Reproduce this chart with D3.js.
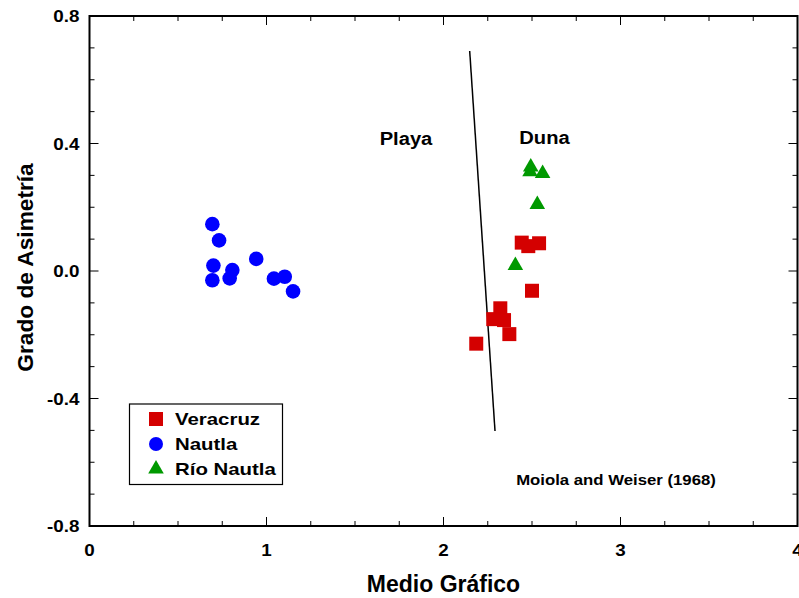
<!DOCTYPE html>
<html>
<head>
<meta charset="utf-8">
<script src="https://cdn.jsdelivr.net/npm/d3@7"></script>
<style>
  html, body { margin: 0; padding: 0; background: #fff; }
  text { font-family: "Liberation Sans", Arial, sans-serif; font-weight: bold; fill: #000; }
</style>
</head>
<body>
<svg id="chart" width="799" height="598"></svg>
<script>
// Sample groups: [Medio Gráfico, Grado de Asimetría]
const veracruz = [
  [2.442, 0.089], [2.479, 0.078], [2.540, 0.087], [2.500, -0.062],
  [2.321, -0.117], [2.281, -0.151], [2.342, -0.154], [2.372, -0.198],
  [2.185, -0.228]
];
const nautla = [
  [0.694, 0.147], [0.732, 0.096], [0.700, 0.017], [0.694, -0.029],
  [0.807, 0.003], [0.792, -0.023], [0.942, 0.038], [1.042, -0.024],
  [1.103, -0.018], [1.150, -0.064]
];
const rioNautla = [
  [2.493, 0.326], [2.489, 0.311], [2.560, 0.306], [2.530, 0.209],
  [2.406, 0.017]
];
// Beach / dune boundary line
const boundary = [[2.148, 0.69], [2.291, -0.502]];

const xTicks = [0, 1, 2, 3, 4];
const yTicks = [-0.8, -0.4, 0.0, 0.4, 0.8];

const svg = d3.select("#chart");
const pL = 89.5, pR = 797.5, pT = 16, pB = 526;

const x = d3.scaleLinear().domain([0, 4]).range([pL, pR]);
const y = d3.scaleLinear().domain([-0.8, 0.8]).range([pB, pT]);

// tick formats with a plain hyphen as the minus sign
const fmtY = d3.formatLocale({ decimal: ".", thousands: ",", grouping: [3], currency: ["", ""], minus: "-" }).format(".1f");
const fmtX = d3.format("d");

// widen glyphs horizontally by a factor, keeping the text as text
function widen(sel, factor) {
  sel.each(function () {
    const w = this.getComputedTextLength();
    d3.select(this).attr("textLength", w * factor).attr("lengthAdjust", "spacingAndGlyphs");
  });
  return sel;
}

// frame
svg.append("rect")
  .attr("x", pL).attr("y", pT)
  .attr("width", pR - pL).attr("height", pB - pT)
  .attr("fill", "none").attr("stroke", "#000").attr("stroke-width", 2);

// inward ticks on all four sides
const xMinor = d3.range(0, 4.001, 0.25);
const yMinor = d3.range(-0.8, 0.8001, 0.1);
const isMajorX = v => Math.abs(v - Math.round(v)) < 1e-6;
const isMajorY = v => yTicks.some(t => Math.abs(t - v) < 1e-6);
const tickG = svg.append("g").attr("stroke", "#000").attr("stroke-width", 1);
xMinor.forEach(v => {
  const len = isMajorX(v) ? 9 : 5;
  tickG.append("line").attr("x1", x(v)).attr("x2", x(v)).attr("y1", pB).attr("y2", pB - len);
  tickG.append("line").attr("x1", x(v)).attr("x2", x(v)).attr("y1", pT).attr("y2", pT + len);
});
yMinor.forEach(v => {
  const len = isMajorY(v) ? 9 : 5;
  tickG.append("line").attr("y1", y(v)).attr("y2", y(v)).attr("x1", pL).attr("x2", pL + len);
  tickG.append("line").attr("y1", y(v)).attr("y2", y(v)).attr("x1", pR).attr("x2", pR - len);
});

// tick labels
widen(svg.append("g").selectAll("text").data(xTicks).join("text")
  .attr("x", d => x(d)).attr("y", pB + 30)
  .attr("text-anchor", "middle").style("font-size", "16.5px")
  .text(d => fmtX(d)), 1.14);
widen(svg.append("g").selectAll("text").data(yTicks).join("text")
  .attr("x", pL - 10).attr("y", d => y(d) + 6)
  .attr("text-anchor", "end").style("font-size", "16.5px")
  .text(d => fmtY(d)), 1.14);

// axis titles
svg.append("text").attr("x", 443.5).attr("y", 592)
  .attr("text-anchor", "middle").style("font-size", "23px").text("Medio Gráfico");
svg.append("text")
  .attr("transform", `translate(33, 267.5) rotate(-90)`)
  .attr("text-anchor", "middle").style("font-size", "22.7px").text("Grado de Asimetría");

// boundary line
svg.append("line")
  .attr("x1", x(boundary[0][0])).attr("y1", y(boundary[0][1]))
  .attr("x2", x(boundary[1][0])).attr("y2", y(boundary[1][1]))
  .attr("stroke", "#000").attr("stroke-width", 1.5);

// field labels
widen(svg.append("text").attr("x", 406).attr("y", 145).attr("text-anchor", "middle")
  .style("font-size", "18px").text("Playa"), 1.12);
widen(svg.append("text").attr("x", 544.5).attr("y", 144).attr("text-anchor", "middle")
  .style("font-size", "18px").text("Duna"), 1.12);
widen(svg.append("text").attr("x", 616).attr("y", 485).attr("text-anchor", "middle")
  .style("font-size", "15.5px").text("Moiola and Weiser (1968)"), 1.08);

// markers
const red = "#d40000", blue = "#0000ff", green = "#009900";
const sq = d3.symbol().type(d3.symbolSquare).size(196);
const tri = d3.symbol().type(d3.symbolTriangle).size(105);

svg.append("g").selectAll("path").data(veracruz).join("path")
  .attr("d", sq).attr("fill", red)
  .attr("transform", d => `translate(${x(d[0])},${y(d[1])})`);
svg.append("g").selectAll("circle").data(nautla).join("circle")
  .attr("cx", d => x(d[0])).attr("cy", d => y(d[1])).attr("r", 7.3)
  .attr("fill", blue);
svg.append("g").selectAll("path").data(rioNautla).join("path")
  .attr("d", tri).attr("fill", green)
  .attr("transform", d => `translate(${x(d[0])},${y(d[1])})`);

// legend
const lg = svg.append("g");
lg.append("rect").attr("x", 129.5).attr("y", 404).attr("width", 153).attr("height", 80.5)
  .attr("fill", "#fff").attr("stroke", "#000").attr("stroke-width", 1.2);
const legendItems = [
  { name: "Veracruz", shape: "sq", color: red },
  { name: "Nautla", shape: "circle", color: blue },
  { name: "Río Nautla", shape: "tri", color: green }
];
legendItems.forEach((it, i) => {
  const cy = 419 + i * 25, cx = 156;
  if (it.shape === "circle") {
    lg.append("circle").attr("cx", cx).attr("cy", cy).attr("r", 7).attr("fill", it.color);
  } else {
    lg.append("path").attr("d", it.shape === "sq" ? sq() : tri())
      .attr("fill", it.color).attr("transform", `translate(${cx},${cy})`);
  }
  widen(lg.append("text").attr("x", 175).attr("y", cy + 6).style("font-size", "17px").text(it.name), 1.2);
});
</script>
</body>
</html>
